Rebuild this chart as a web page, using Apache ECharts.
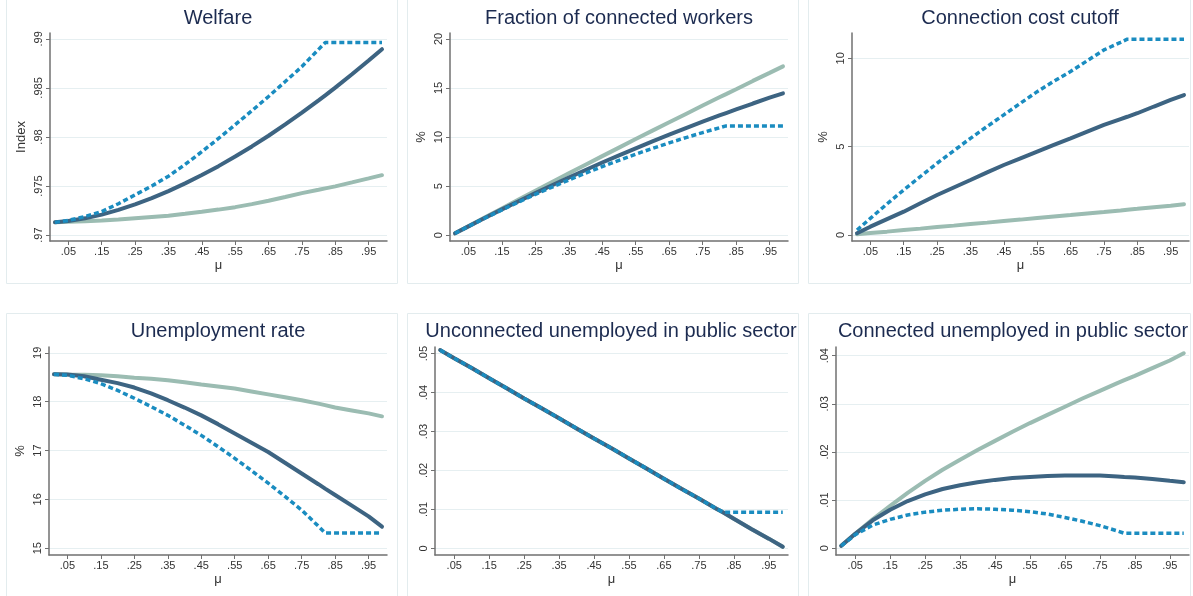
<!DOCTYPE html>
<html><head><meta charset="utf-8">
<script src="https://cdn.jsdelivr.net/npm/echarts@6/dist/echarts.min.js"></script>
<style>html,body{margin:0;padding:0;background:#fff}#c{width:1193px;height:596px}</style>
</head><body><div id="c"></div>
<script>
const mu = [0.01,0.05,0.10,0.15,0.20,0.25,0.30,0.35,0.40,0.45,0.50,0.55,0.60,0.65,0.70,0.75,0.80,0.82,0.85,0.90,0.95,0.99];
const xTicks = [0.05,0.15,0.25,0.35,0.45,0.55,0.65,0.75,0.85,0.95];

const welfareLight = [.97130,.97135,.97141,.97149,.97160,.97173,.97185,.97197,.97217,.97238,.97260,.97285,.97316,.97350,.97388,.97428,.97462,.97476,.97497,.97537,.97578,.97611];
const welfareDark  = [.97131,.97143,.97171,.97209,.97257,.97313,.97377,.97449,.97527,.97612,.97703,.97801,.97904,.98013,.98128,.98248,.98373,.98424,.98503,.98639,.98779,.98895];
const welfareDot   = [.97130,.97150,.97190,.97240,.97320,.97410,.97500,.97600,.97720,.97850,.97985,.98125,.98268,.98413,.98565,.98718,.98893,.98963,.98963,.98963,.98963,.98963];

const fracLight = [0.2,0.93,1.84,2.74,3.64,4.54,5.43,6.31,7.19,8.06,8.93,9.80,10.66,11.51,12.36,13.21,14.05,14.38,14.88,15.72,16.54,17.2];
const fracDark  = [0.2,0.91,1.78,2.64,3.47,4.29,5.10,5.88,6.65,7.41,8.14,8.86,9.56,10.25,10.92,11.57,12.20,12.45,12.82,13.42,14.01,14.46];
const fracDot   = [0.2,0.90,1.76,2.58,3.39,4.16,4.91,5.63,6.33,7.00,7.64,8.26,8.85,9.41,9.95,10.46,10.95,11.14,11.14,11.14,11.14,11.14];

const costLight = [0.04,0.11,0.19,0.28,0.36,0.45,0.53,0.62,0.70,0.79,0.87,0.96,1.05,1.13,1.22,1.30,1.39,1.43,1.48,1.57,1.66,1.74];
const costDark  = [0.10,0.47,0.90,1.32,1.80,2.26,2.69,3.11,3.54,3.96,4.34,4.72,5.10,5.47,5.85,6.23,6.56,6.69,6.89,7.27,7.64,7.92];
const costDot   = [0.28,0.94,1.76,2.55,3.31,4.06,4.77,5.47,6.14,6.80,7.46,8.11,8.70,9.25,9.86,10.47,10.90,11.08,11.08,11.08,11.08,11.08];

const unempLight = [18.56,18.555,18.55,18.54,18.52,18.49,18.47,18.44,18.40,18.35,18.31,18.27,18.21,18.15,18.09,18.03,17.96,17.93,17.88,17.82,17.76,17.70];
const unempDark  = [18.56,18.555,18.52,18.45,18.38,18.29,18.17,18.03,17.88,17.72,17.54,17.35,17.16,16.97,16.75,16.53,16.31,16.22,16.09,15.87,15.65,15.44];
const unempDot   = [18.56,18.54,18.47,18.37,18.23,18.07,17.90,17.72,17.52,17.31,17.08,16.84,16.59,16.33,16.06,15.78,15.45,15.31,15.31,15.31,15.31,15.31];

const unconLight = [.0509,.0488,.0463,.0437,.0411,.0385,.0360,.0334,.0308,.0282,.0257,.0231,.0205,.0179,.0153,.0128,.0102,.0092,.0076,.0050,.0025,.0004];
const unconDark  = [.0509,.0488,.0463,.0437,.0411,.0385,.0360,.0334,.0308,.0282,.0257,.0231,.0205,.0179,.0153,.0128,.0102,.0092,.0076,.0050,.0025,.0004];
const unconDot   = [.0509,.0488,.0463,.0437,.0411,.0385,.0360,.0334,.0308,.0282,.0257,.0231,.0205,.0179,.0153,.0128,.0102,.0093,.0093,.0093,.0093,.0093];

const connLight = [.0005,.0030,.0060,.0088,.0115,.0140,.0163,.0184,.0204,.0223,.0242,.0260,.0277,.0294,.0311,.0327,.0343,.0349,.0358,.0374,.0390,.0405];
const connDark  = [.0005,.0030,.0058,.0080,.0098,.0112,.0123,.0131,.0137,.0142,.0146,.0148,.0150,.0151,.0151,.0151,.0149,.0148,.0147,.0144,.0140,.0137];
const connDot   = [.0005,.0028,.0048,.0060,.0069,.0075,.0079,.0081,.0082,.0081,.0079,.0076,.0071,.0064,.0056,.0047,.0036,.0031,.0031,.0031,.0031,.0031];

const titles = ['Welfare','Fraction of connected workers','Connection cost cutoff','Unemployment rate','Unconnected unemployed in public sector','Connected unemployed in public sector'];
const yNames = ['Index','%','%','%','',''];
const yTicks = [[.97,.975,.98,.985,.99],[0,5,10,15,20],[0,5,10],[15,16,17,18,19],[0,.01,.02,.03,.04,.05],[0,.01,.02,.03,.04]];
const seriesData = [
  [welfareLight,welfareDark,welfareDot],
  [fracLight,fracDark,fracDot],
  [costLight,costDark,costDot],
  [unempLight,unempDark,unempDot],
  [unconLight,unconDark,unconDot],
  [connLight,connDark,connDot]
];

// layout
const layout = [
  {left:50, top:33, width:337, height:208, ymin:.9694, ymax:.9906, tx:218, ty:7},
  {left:450,top:33, width:338, height:208, ymin:-0.58, ymax:20.6, tx:619, ty:7},
  {left:852,top:33, width:337, height:208, ymin:-0.34, ymax:11.43, tx:1020, ty:7},
  {left:49, top:347,width:338, height:208, ymin:14.86, ymax:19.12, tx:218, ty:320},
  {left:435,top:347,width:353, height:208, ymin:-0.0017, ymax:0.0517, tx:611, ty:320},
  {left:836,top:347,width:353, height:208, ymin:-0.0014, ymax:0.0418, tx:1013, ty:320}
];
const frames = [[6,-2,391,285],[407,-2,391,285],[808,-2,382,285],[6,313,391,290],[407,313,391,290],[808,313,382,290]];

const colLight = '#9bbcb2', colDark = '#3d6482', colDot = '#1a8cc0';
const axisCol = '#707070', txtCol = '#333', gridCol = '#e6eff1';
const FONT = 'Liberation Sans, Arial, sans-serif';

function fmt(v){ let s = String(+(+v).toFixed(4)); return s.replace(/^0\./,'.').replace(/^-0\./,'-.'); }

const grid=[], xAxis=[], yAxis=[], series=[], title=[];
layout.forEach((L,i)=>{
  grid.push({left:L.left, top:L.top, width:L.width, height:L.height, containLabel:false});
  title.push({text:titles[i], left:L.tx, top:L.ty, textAlign:'center', padding:0,
    textStyle:{fontFamily:FONT, fontSize:20, fontWeight:'normal', color:'#1c2b50', lineHeight:22}});
  xAxis.push({type:'value', gridIndex:i, min:-0.005, max:1.005, name:'μ', nameLocation:'middle', nameGap:18,
    nameTextStyle:{fontFamily:FONT, fontSize:13, color:txtCol},
    axisLine:{show:true, onZero:false, lineStyle:{color:axisCol, width:1.5}},
    axisTick:{show:true, length:4, customValues:xTicks, lineStyle:{color:axisCol}},
    axisLabel:{customValues:xTicks, formatter:fmt, fontFamily:FONT, fontSize:11, color:txtCol, margin:5},
    splitLine:{show:false}});
  yAxis.push({type:'value', gridIndex:i, min:L.ymin, max:L.ymax, name:yNames[i], nameLocation:'middle', nameGap:22,
    nameTextStyle:{fontFamily:FONT, fontSize:13, color:txtCol},
    axisLine:{show:true, onZero:false, lineStyle:{color:axisCol, width:1.5}},
    axisTick:{show:true, length:4, customValues:yTicks[i], lineStyle:{color:axisCol}},
    axisLabel:{customValues:yTicks[i], formatter:fmt, rotate:90, fontFamily:FONT, fontSize:11, color:txtCol, margin:6},
    splitLine:{show:true, lineStyle:{color:gridCol, width:1}}});
  const [a,b,c] = seriesData[i];
  const mk = (arr)=>mu.map((m,k)=>[m,arr[k]]);
  series.push({type:'line', xAxisIndex:i, yAxisIndex:i, data:mk(a), showSymbol:false, silent:true,
    lineStyle:{color:colLight, width:4, cap:'round'}, z:2});
  series.push({type:'line', xAxisIndex:i, yAxisIndex:i, data:mk(b), showSymbol:false, silent:true,
    lineStyle:{color:colDark, width:4, cap:'round'}, z:3});
  series.push({type:'line', xAxisIndex:i, yAxisIndex:i, data:mk(c), showSymbol:false, silent:true,
    lineStyle:{color:colDot, width:3.5, type:[5,3], cap:'butt'}, z:4});
});

const graphic = frames.map(f=>({type:'rect', shape:{x:f[0]+0.5,y:f[1]+0.5,width:f[2],height:f[3]}, style:{fill:'none', stroke:'#e3ecee', lineWidth:1}, silent:true, z:-1}));

const chart = echarts.init(document.getElementById('c'), null, {renderer:'canvas'});
chart.setOption({animation:false, backgroundColor:'#fff', grid, xAxis, yAxis, series, title, graphic});
</script></body></html>
